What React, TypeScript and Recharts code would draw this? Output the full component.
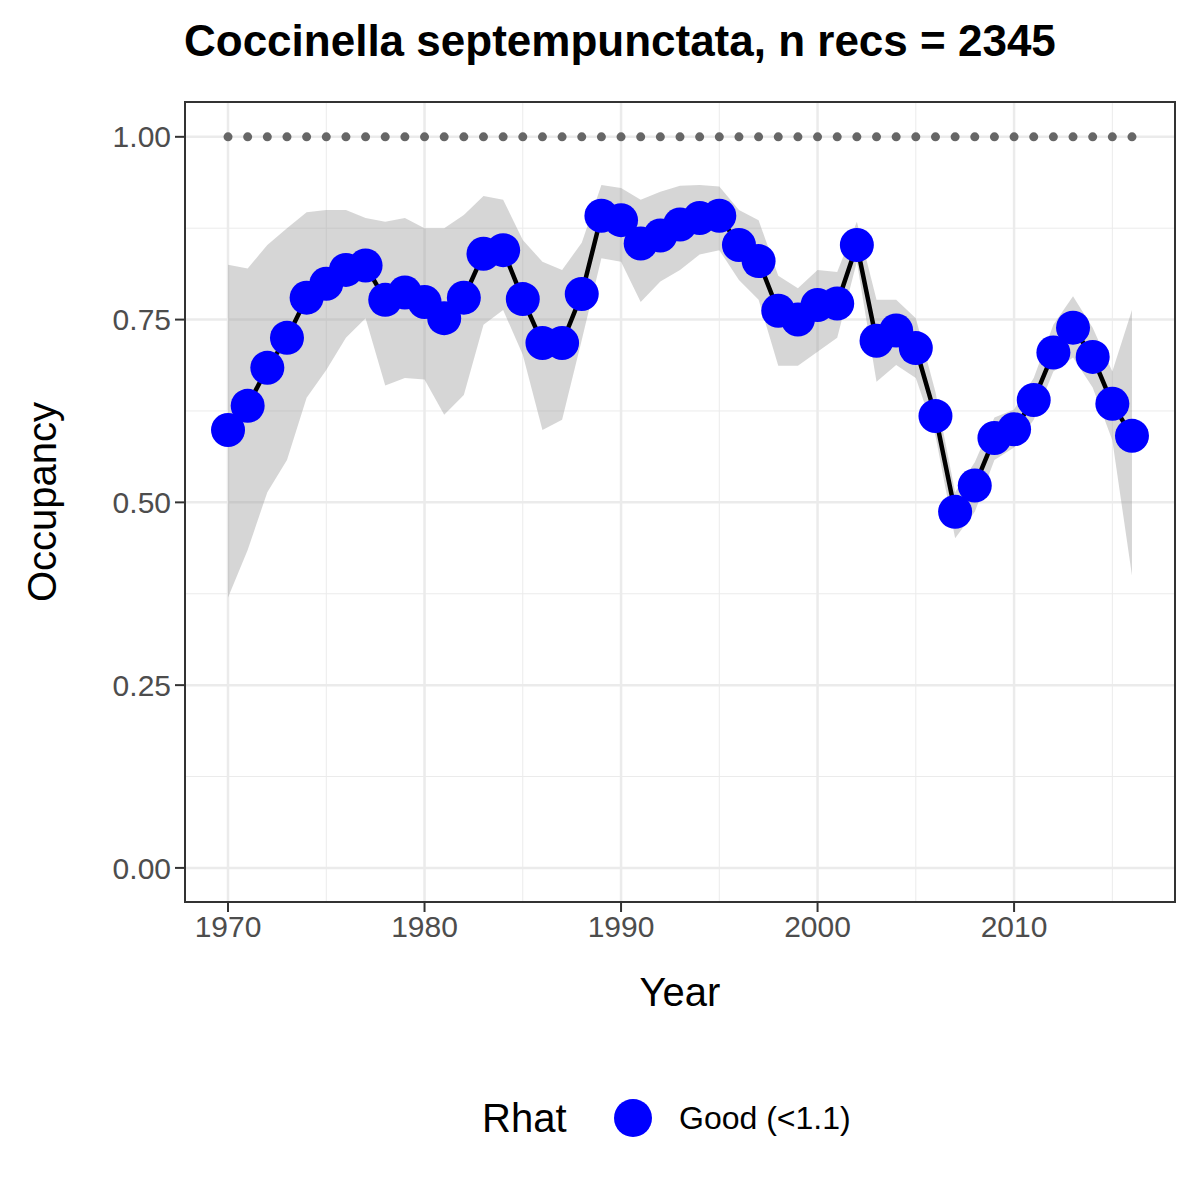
import { ComposedChart, Line, Area, XAxis, YAxis, CartesianGrid } from 'recharts';

const years = [1970,1971,1972,1973,1974,1975,1976,1977,1978,1979,1980,1981,1982,1983,1984,1985,1986,1987,1988,1989,1990,1991,1992,1993,1994,1995,1996,1997,1998,1999,2000,2001,2002,2003,2004,2005,2006,2007,2008,2009,2010,2011,2012,2013,2014,2015,2016];
const occupancy = [0.599,0.632,0.684,0.725,0.78,0.799,0.818,0.824,0.777,0.787,0.774,0.752,0.78,0.84,0.845,0.778,0.718,0.718,0.785,0.892,0.886,0.854,0.865,0.88,0.889,0.892,0.852,0.83,0.762,0.75,0.77,0.772,0.852,0.721,0.735,0.711,0.618,0.487,0.523,0.588,0.6,0.64,0.705,0.739,0.699,0.635,0.591];
const upper = [0.825,0.82,0.852,0.875,0.897,0.9,0.9,0.889,0.884,0.889,0.875,0.875,0.893,0.919,0.914,0.859,0.829,0.818,0.855,0.934,0.93,0.914,0.925,0.933,0.934,0.932,0.9,0.886,0.81,0.793,0.818,0.815,0.884,0.777,0.777,0.752,0.651,0.514,0.555,0.616,0.627,0.67,0.743,0.782,0.739,0.679,0.763];
const lower = [0.37,0.435,0.514,0.558,0.643,0.681,0.725,0.752,0.66,0.67,0.668,0.62,0.647,0.743,0.763,0.702,0.599,0.613,0.722,0.834,0.829,0.774,0.802,0.818,0.839,0.845,0.804,0.777,0.687,0.687,0.706,0.725,0.829,0.665,0.688,0.67,0.591,0.451,0.487,0.558,0.575,0.613,0.679,0.698,0.657,0.585,0.4];
const xTicks = [1970, 1980, 1990, 2000, 2010];
const xMinor = [1975, 1985, 1995, 2005, 2015];
const yTicks = [0, 0.25, 0.5, 0.75, 1];
const yMinor = [0.125, 0.375, 0.625, 0.875];

const data = years.map((year, i) => ({
  year,
  occ: occupancy[i],
  band: [lower[i], upper[i]],
  one: 1,
}));

const font = '"Liberation Sans", Arial, sans-serif';
const tickStyle = { fontSize: 30, fill: '#4d4d4d', fontFamily: font };

export default function App() {
  return (
    <div style={{ position: 'absolute', left: 0, top: 0, width: 1200, height: 1200, background: '#fff', fontFamily: font, overflow: 'hidden' }}>
      <div style={{ position: 'absolute', left: 184, top: 16, fontSize: 44, fontWeight: 'bold', whiteSpace: 'nowrap', color: '#000' }}>
        Coccinella septempunctata, n recs = 2345
      </div>
      <ComposedChart width={1200} height={1200} data={data} margin={{ top: 101, right: 24, left: 84, bottom: 237 }}>
        <CartesianGrid stroke="#ebebeb" strokeWidth={1} horizontalValues={yMinor} verticalValues={xMinor} />
        <CartesianGrid stroke="#ebebeb" strokeWidth={2.5} horizontalValues={yTicks} verticalValues={xTicks} />
        <XAxis dataKey="year" type="number" domain={[1967.76, 2018.24]} ticks={xTicks} allowDataOverflow
          tick={tickStyle} tickLine={{ stroke: '#333', strokeWidth: 2 }} tickSize={9} axisLine={false} height={60} tickMargin={4} />
        <YAxis type="number" domain={[-0.048, 1.049]} ticks={yTicks} allowDataOverflow
          tickFormatter={(v: number) => v.toFixed(2)}
          tick={tickStyle} tickLine={{ stroke: '#333', strokeWidth: 2 }} tickSize={9} axisLine={false} width={100} tickMargin={4} />
        <Area dataKey="band" stroke="none" fill="#999999" fillOpacity={0.4} isAnimationActive={false} />
        <Line dataKey="one" stroke="none" dot={{ r: 4.5, fill: '#666666', stroke: 'none' }} isAnimationActive={false} />
        <Line dataKey="occ" stroke="#000" strokeWidth={4.5} dot={{ r: 17, fill: '#0000ff', stroke: 'none' }} isAnimationActive={false} />
      </ComposedChart>
      <div style={{ position: 'absolute', left: 184, top: 101, width: 992, height: 802, border: '2px solid #333', boxSizing: 'border-box', pointerEvents: 'none' }} />
      <div style={{ position: 'absolute', left: 580, top: 970, width: 200, textAlign: 'center', fontSize: 40 }}>Year</div>
      <div style={{ position: 'absolute', left: 42, top: 502, transform: 'translate(-50%, -50%) rotate(-90deg)', fontSize: 40, whiteSpace: 'nowrap' }}>Occupancy</div>
      <div style={{ position: 'absolute', left: 482, top: 1096, fontSize: 40 }}>Rhat</div>
      <div style={{ position: 'absolute', left: 614, top: 1099, width: 38, height: 38, borderRadius: '50%', background: '#0000ff' }} />
      <div style={{ position: 'absolute', left: 679, top: 1100, fontSize: 32 }}>Good (&lt;1.1)</div>
    </div>
  );
}
